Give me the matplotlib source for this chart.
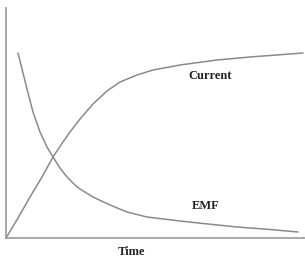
import matplotlib
matplotlib.use("Agg")
import matplotlib.pyplot as plt

# Data (time units, arbitrary value units)
current_t = [0, 12, 24, 36, 47, 57, 64, 74, 87, 101, 114, 131, 147, 174, 211, 244, 297]
current_v = [0, 20, 41, 61, 81, 96, 106, 119, 134, 147, 156, 163, 168, 173, 178, 181, 185]
emf_t = [12, 17, 22, 27, 34, 41, 47, 54, 61, 69, 74, 87, 104, 121, 141, 174, 197, 231, 264, 292]
emf_v = [185, 165, 145, 126, 106, 91, 81, 70, 61, 53, 49, 41, 33, 26, 21, 17, 14.5, 11, 8.5, 6]
labels = {"current": "Current", "emf": "EMF", "x": "Time"}

W, H = 305, 259
fig = plt.figure(figsize=(W / 100, H / 100), dpi=100)
ax = fig.add_axes([6 / W, (H - 238) / H, (W - 6) / W, (238 - 8) / H])

line_color = "#8a8a8a"
ax.plot(current_t, current_v, color=line_color, lw=1.1,
        solid_capstyle="round", solid_joinstyle="round")
ax.plot(emf_t, emf_v, color=line_color, lw=1.1,
        solid_capstyle="round", solid_joinstyle="round")

ax.set_xlim(0, 299)
ax.set_ylim(0, 230)
ax.set_xticks([])
ax.set_yticks([])
for s in ["top", "right"]:
    ax.spines[s].set_visible(False)
for s in ["left", "bottom"]:
    ax.spines[s].set_color("#999999")
    ax.spines[s].set_linewidth(1.2)
ax.patch.set_alpha(0)

font = dict(family="Liberation Serif", weight="bold", size=9, color="#222222")
ax.text(204, 162, labels["current"], ha="center", va="center", **font)
ax.text(200, 32, labels["emf"], ha="center", va="center", **font)
ax.text(126, -14, labels["x"], ha="center", va="center", clip_on=False, **font)

fig.savefig("out.png", dpi=100)
